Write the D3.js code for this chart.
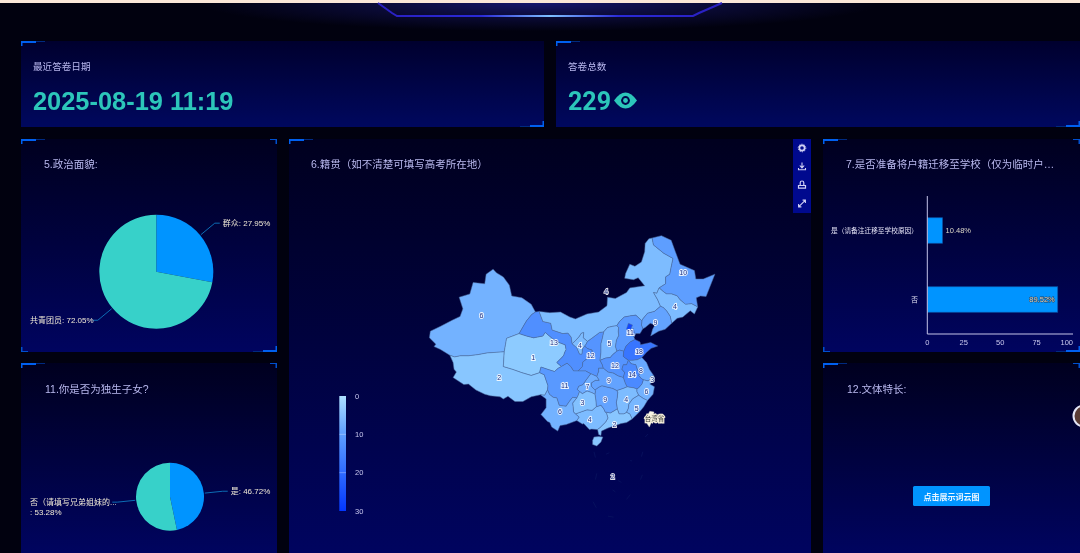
<!DOCTYPE html>
<html>
<head>
<meta charset="utf-8">
<title>问卷大屏</title>
<script src="https://cdn.jsdelivr.net/npm/d3@7/dist/d3.min.js"></script>
<style>
    html, body { margin: 0; padding: 0; background: #01010f; overflow: hidden; }
    svg { display: block; filter: blur(0.35px); }
    text { font-family: "Liberation Sans", "Noto Sans CJK SC", sans-serif; }
</style>
</head>
<body>
<div id="chart"></div>
<script>
// ---- Values ----
const latestDate = "2025-08-19 11:19";
const totalCount = "229";

const politicsNames = ["群众", "共青团员"];
const politicsValues = [27.95, 72.05];

const onlyChildNames = ["是", "否（请填写兄弟姐妹的..."];
const onlyChildValues = [46.72, 53.28];

const moveNames = ["是（请备注迁移至学校原因）", "否"];
const moveValues = [10.48, 89.52];
const moveTicks = [0, 25, 50, 75, 100];

const legendTicks = [0, 10, 20, 30];

const provinceNames = ["新疆", "西藏", "青海", "甘肃", "内蒙古", "宁夏", "陕西", "山西", "河北", "黑龙江", "吉林", "辽宁",
    "山东", "河南", "江苏", "上海", "安徽", "浙江", "湖北", "湖南", "江西", "福建", "广东", "广西", "贵州", "云南", "四川", "重庆", "海南", "北京", "天津"];
const provinceValues = [6, 2, 1, 13, 4, 4, 12, 5, 11, 10, 4, 9,
    18, 12, 8, 3, 14, 6, 9, 9, 4, 5, 2, 4, 3, 6, 11, 7, 2, 27, 16];

// ---- Province borders, lon/lat, shared so neighbours line up ----
const arcs = {
    xj_xz: [[78, 35.5], [79, 35.2], [80.3, 35.4], [82, 35.4], [84, 35.6], [86, 35.9], [88, 36], [89.7, 36.1]],
    xj_qh: [[89.7, 36.1], [90.2, 38.4], [92.9, 39.2]],
    xj_gs: [[92.9, 39.2], [93.8, 40.4], [94.5, 41.3], [95.6, 42.3], [96.4, 42.7]],
    xj_out: [[96.4, 42.7], [95.5, 43.9], [93.5, 44.9], [91.3, 45.2], [90.8, 46.8], [89.5, 48], [88, 48.6], [87.3, 49.1], [85.8, 48.4], [85.5, 47], [83, 47.2], [82.3, 45.5], [80, 45], [80.8, 43.2], [80.2, 42], [78.5, 41.4], [76, 40.4], [73.8, 39.6], [73.6, 38.5], [75, 37.4], [74.6, 37], [76, 36.5], [78, 35.5]],
    xz_out: [[78, 35.5], [78.7, 34.2], [78.9, 33], [79.4, 32.5], [78.7, 31.5], [81, 30.2], [82, 30.3], [83.6, 29.2], [85.5, 28.4], [86.7, 28.1], [88.8, 27.9], [89.5, 27.5], [90.5, 28], [92, 27], [93.7, 27], [95.5, 27.9], [97.5, 28.3]],
    xz_yn: [[97.5, 28.3], [98.4, 28.2], [99, 29.2]],
    xz_sc: [[99, 29.2], [99.1, 30], [98.7, 31], [98.3, 32], [97.3, 32.4]],
    xz_qh: [[97.3, 32.4], [95.5, 31.9], [93.5, 32.4], [91.5, 33], [89.5, 33.5], [89.6, 34.8], [89.7, 36.1]],
    qh_sc: [[97.3, 32.4], [97.6, 33.4], [99, 33], [100.5, 32.6], [101.3, 33.2], [102, 33.5]],
    qh_gs: [[92.9, 39.2], [94.5, 38.8], [96, 38.5], [98, 38.8], [98.5, 39.4], [100, 38.4], [101.5, 37.7], [102.8, 37.3], [103, 36.5], [102.7, 36], [102.5, 35.5], [102.2, 35.2], [101, 34.2], [102, 33.5]],
    gs_sc: [[102, 33.5], [103.2, 34.1], [104, 33.5], [104.6, 32.7], [105.6, 32.7]],
    gs_sn: [[105.6, 32.7], [106.5, 33.5], [106.6, 34.3], [107.5, 34.9], [108.6, 35.2], [108.6, 36.4], [107.5, 36.7], [107, 37.1]],
    gs_nx: [[107, 37.1], [106.5, 36.6], [106.4, 35.7], [105.9, 35.7], [105.3, 36.8], [104.3, 37.5]],
    gs_nm: [[104.3, 37.5], [104.1, 38.6], [103.4, 39.3], [102.3, 39.2], [100, 39.8], [99.7, 40.9], [98, 41.2], [97.2, 42.8]],
    gs_out: [[97.2, 42.8], [96.4, 42.7]],
    nm_nx: [[104.3, 37.5], [105, 38], [105.8, 38.7], [106.3, 39.3], [106.8, 39.4], [106.7, 38.5], [107.6, 37.9]],
    nx_sn: [[107.6, 37.9], [107.3, 37.4], [107, 37.1]],
    nm_sn: [[107.6, 37.9], [108.5, 38.4], [110.2, 39.4], [111.1, 39.5]],
    sn_sx: [[111.1, 39.5], [110.8, 38.4], [110.5, 37.5], [110.5, 36], [110.3, 34.6]],
    sn_ha: [[110.3, 34.6], [110.8, 33.8], [111, 33.2]],
    sn_hb: [[111, 33.2], [110, 33.2], [110, 32.6], [109.6, 31.7]],
    sn_cq: [[109.6, 31.7], [108.6, 32.1], [108.3, 32.2]],
    sn_sc: [[108.3, 32.2], [107.2, 32.7], [105.6, 32.7]],
    nm_out: [[97.2, 42.8], [99.5, 42.6], [101.8, 42.7], [103.8, 41.9], [105, 41.6], [107.5, 42.4], [110, 42.7], [111.8, 43.7], [111.9, 45], [113.6, 44.8], [116, 45.7], [116.7, 46.4], [119.9, 46.7], [118.5, 47.9], [117.5, 47.6], [115.6, 47.8], [115.8, 48.5], [116.7, 49.8], [117.8, 49.5], [119.2, 50.1], [119.9, 51.5], [120, 52.6], [120.8, 53.2], [121.5, 53.3]],
    nm_hl: [[121.5, 53.3], [121.8, 52.4], [124, 51.3], [126, 50.6], [125.6, 49.4], [125.3, 48.4], [124.4, 48], [124.4, 47], [123, 46.4]],
    nm_jl: [[123, 46.4], [122.5, 45.6], [121.8, 45.7], [122.7, 44.6], [123.3, 43.6]],
    nm_ln: [[123.3, 43.6], [122, 42.8], [120.5, 42.5], [119.5, 41.6], [119.3, 41.3]],
    nm_he: [[119.3, 41.3], [118, 42.2], [116.9, 42.1], [115.5, 41.9], [114.5, 41.2], [113.9, 40.5]],
    nm_sx: [[113.9, 40.5], [113, 40.4], [111.9, 40.2], [111.1, 39.5]],
    hl_out: [[121.5, 53.3], [123.5, 53.6], [125.6, 53], [126.5, 51.5], [127.5, 49.8], [130.6, 48.9], [130.9, 47.7], [132.5, 47.7], [135, 48.4], [133.1, 45.1], [131.9, 45.2], [131, 44.9], [131.3, 43.5]],
    hl_jl: [[131.3, 43.5], [130, 44], [128.7, 43.9], [127.5, 44.6], [126.9, 45.2], [125.7, 45.5], [124.6, 45.5], [124, 45.8], [123, 46.4]],
    jl_out: [[131.3, 43.5], [130.6, 42.4], [129.7, 42.9], [128.1, 41.9], [126.9, 41.7], [125.7, 40.9]],
    jl_ln: [[125.7, 40.9], [125.4, 42], [124.6, 42.9], [123.9, 43.4], [123.3, 43.6]],
    ln_out: [[125.7, 40.9], [124.3, 39.9], [122.9, 39.6], [121.2, 38.8], [121.6, 39.9], [122.1, 40.6], [121.1, 40.9], [120, 40.2], [119.5, 40]],
    ln_he: [[119.5, 40], [119.2, 40.6], [119.3, 41.3]],
    he_out: [[119.5, 40], [118.9, 39.2], [118, 39.2], [117.6, 38.6], [117.8, 38.2]],
    he_sd: [[117.8, 38.2], [116.8, 37.8], [115.9, 37.1], [115.4, 36.2]],
    he_ha: [[115.4, 36.2], [114.5, 36.4], [113.9, 36.2]],
    he_sx: [[113.9, 36.2], [113.6, 37], [113.8, 38.1], [114.3, 38.9], [114.2, 39.6], [114.3, 40.2], [113.9, 40.5]],
    sx_ha: [[110.3, 34.6], [111.5, 35], [112.5, 35.1], [113, 35.6], [113.9, 36.2]],
    ha_sd: [[116.4, 34.6], [115.3, 35.3], [115.4, 36.2]],
    ha_ah: [[115.3, 31.5], [115.6, 32.4], [115, 33], [115.3, 33.8], [116, 33.8], [116.4, 34.6]],
    hb_ha: [[115.3, 31.5], [114.2, 31.8], [113.2, 32.3], [112, 32.5], [111, 33.2]],
    sd_js: [[116.4, 34.6], [117.3, 34.6], [118.3, 34.7], [119.3, 35.1]],
    sd_out: [[119.3, 35.1], [120.3, 36], [121.3, 36.7], [122.7, 37.1], [121.2, 37.7], [120, 37.5], [119, 37.3], [118.9, 37.8], [117.8, 38.2]],
    js_out: [[119.3, 35.1], [120.3, 34.2], [120.9, 33], [121.9, 31.8]],
    js_sh: [[121, 31], [121.2, 31.7], [121.9, 31.8]],
    js_zj: [[119.6, 31.1], [120.5, 30.9], [121, 31]],
    js_ah: [[116.4, 34.6], [117, 34], [118, 33.8], [118.2, 33.2], [118.5, 32.7], [119, 32.4], [118.6, 31.9], [119.2, 31.3], [119.6, 31.1]],
    sh_out: [[121.9, 31.8], [122, 31.4], [121.9, 30.9]],
    sh_zj: [[121, 31], [121.2, 30.7], [121.9, 30.9]],
    zj_out: [[121.9, 30.9], [121, 30.3], [122, 29.8], [121.7, 28.4], [120.5, 27.2]],
    zj_fj: [[120.5, 27.2], [119.6, 27.6], [118.6, 28.2]],
    zj_jx: [[118.6, 28.2], [118.2, 28.9], [118.2, 29.4]],
    ah_zj: [[119.6, 31.1], [119.3, 30.3], [118.6, 29.6], [118.2, 29.4]],
    ah_jx: [[118.2, 29.4], [117.5, 29.6], [116.7, 29.7], [116.1, 29.8]],
    hb_ah: [[116.1, 29.8], [115.7, 30.5], [115.3, 31.5]],
    hb_jx: [[113.9, 29.1], [115.3, 29.5], [116.1, 29.8]],
    fj_jx: [[118.6, 28.2], [117.3, 27.5], [116.5, 26.5], [116.4, 25.7], [116, 24.9]],
    fj_gd: [[116, 24.9], [116.7, 24.6], [117.2, 23.6]],
    fj_out: [[117.2, 23.6], [118.1, 24.4], [119, 25.2], [119.7, 26], [120.5, 27.2]],
    jx_gd: [[116, 24.9], [115.4, 24.6], [114.4, 24.6], [114, 25.6]],
    hn_jx: [[114, 25.6], [113.8, 26.8], [114, 27.8], [114.1, 28.7], [113.9, 29.1]],
    hn_gd: [[111.4, 25], [112.5, 24.8], [113.5, 25.3], [114, 25.6]],
    gd_out: [[117.2, 23.6], [116, 22.9], [114.8, 22.7], [113.6, 22.3], [112, 21.8], [110.6, 21.2], [110.5, 20.3], [110, 20.5], [109.8, 21.4], [109.7, 21.5]],
    gx_gd: [[111.4, 25], [111.7, 24.7], [112, 23.8], [111.5, 23], [110.3, 21.9], [109.7, 21.5]],
    gx_hn: [[109.5, 26], [110.5, 26.3], [111.1, 25.6], [111.4, 25]],
    gx_out: [[109.7, 21.5], [108.5, 21.6], [108, 21.5], [106.8, 22.7], [106.5, 22.6], [105.3, 23.3]],
    yn_gx: [[105.3, 23.3], [105.8, 24], [105, 24.6]],
    gx_gz: [[105, 24.6], [106.2, 25], [107.5, 25.4], [108.6, 25.3], [109.5, 26]],
    gz_hn: [[109.5, 26], [109.4, 27.2], [109.2, 28.4]],
    cq_hn: [[109.2, 28.4], [109.3, 29], [109.2, 29.2]],
    hb_hn: [[113.9, 29.1], [113, 29.5], [112, 29.7], [110.7, 30], [110, 29.7], [109.2, 29.2]],
    cq_hb: [[109.2, 29.2], [108.5, 29.8], [108.4, 30.5], [109.3, 31], [110.1, 31], [109.6, 31.7]],
    sc_cq: [[108.3, 32.2], [107.5, 31.3], [106.6, 30.2], [105.7, 29.9], [105.4, 29.3], [105.9, 28.9]],
    cq_gz: [[105.9, 28.9], [106.5, 28.5], [107.5, 29], [108.5, 28.7], [109.2, 28.4]],
    sc_gz: [[105.9, 28.9], [105.6, 28.2], [105.3, 27.7]],
    sc_yn: [[105.3, 27.7], [104.4, 27.8], [103.7, 27], [103, 26.1], [102, 26.2], [101.5, 26.3], [101, 27.7], [100.2, 27.8], [99.4, 28.4], [99, 29.2]],
    yn_gz: [[105, 24.6], [104.6, 25], [104.5, 26], [104.4, 26.7], [105.3, 27.7]],
    yn_out: [[97.5, 28.3], [98.7, 27.5], [98.7, 25.8], [97.6, 24.5], [99, 23.1], [99.5, 22.9], [99.9, 22], [101.2, 21.2], [101.7, 22.3], [103, 22.5], [105.3, 23.3]]
};

// Each province is a closed walk over the arcs, "-" means walk it backwards
const provinceRings = {
    "新疆": ["xj_xz", "xj_qh", "xj_gs", "xj_out"],
    "西藏": ["xz_out", "xz_yn", "xz_sc", "xz_qh", "-xj_xz"],
    "青海": ["xj_qh", "qh_gs", "-qh_sc", "xz_qh"],
    "甘肃": ["qh_gs", "gs_sc", "gs_sn", "gs_nx", "gs_nm", "gs_out", "-xj_gs"],
    "宁夏": ["nm_nx", "nx_sn", "gs_nx"],
    "陕西": ["nm_sn", "sn_sx", "sn_ha", "sn_hb", "sn_cq", "sn_sc", "gs_sn", "-nx_sn"],
    "内蒙古": ["nm_out", "nm_hl", "nm_jl", "nm_ln", "nm_he", "nm_sx", "-nm_sn", "-nm_nx", "gs_nm"],
    "黑龙江": ["hl_out", "hl_jl", "-nm_hl"],
    "吉林": ["jl_out", "jl_ln", "-nm_jl", "-hl_jl"],
    "辽宁": ["ln_out", "ln_he", "-nm_ln", "-jl_ln"],
    "河北": ["he_out", "he_sd", "he_ha", "he_sx", "-nm_he", "-ln_he"],
    "山西": ["he_sx", "nm_sx", "sn_sx", "sx_ha"],
    "河南": ["sx_ha", "-he_ha", "-ha_sd", "-ha_ah", "hb_ha", "-sn_ha"],
    "山东": ["sd_out", "he_sd", "-ha_sd", "sd_js"],
    "江苏": ["js_out", "-js_sh", "-js_zj", "-js_ah", "sd_js"],
    "上海": ["js_sh", "sh_out", "-sh_zj"],
    "浙江": ["zj_out", "zj_fj", "zj_jx", "-ah_zj", "js_zj", "sh_zj"],
    "安徽": ["js_ah", "ah_zj", "ah_jx", "hb_ah", "ha_ah"],
    "江西": ["-zj_jx", "fj_jx", "jx_gd", "hn_jx", "hb_jx", "-ah_jx"],
    "福建": ["fj_out", "zj_fj", "fj_jx", "fj_gd"],
    "广东": ["gd_out", "-gx_gd", "hn_gd", "-jx_gd", "fj_gd"],
    "广西": ["gx_out", "yn_gx", "gx_gz", "gx_hn", "gx_gd"],
    "湖南": ["-gx_hn", "gz_hn", "cq_hn", "-hb_hn", "-hn_jx", "-hn_gd"],
    "湖北": ["hb_jx", "hb_ah", "hb_ha", "sn_hb", "-cq_hb", "-hb_hn"],
    "重庆": ["cq_hb", "sn_cq", "sc_cq", "cq_gz", "cq_hn"],
    "四川": ["gs_sc", "-sn_sc", "sc_cq", "sc_gz", "sc_yn", "xz_sc", "qh_sc"],
    "贵州": ["-cq_gz", "sc_gz", "-yn_gz", "gx_gz", "gz_hn"],
    "云南": ["yn_out", "yn_gx", "yn_gz", "sc_yn", "-xz_yn"]
};

// Places that sit on top of or apart from the shared borders
const extraRings = {
    "海南": [[108.7, 19.3], [109, 20], [110, 20.1], [110.9, 20], [110.5, 19], [109.6, 18.2], [108.7, 18.5], [108.7, 19.3]],
    "北京": [[116, 40], [116.4, 40.9], [117.3, 40.6], [116.9, 39.9], [116.3, 39.5], [116, 40]],
    "天津": [[117.8, 39.2], [117.4, 40.1], [117.1, 39.6], [117, 39.1], [117.6, 38.6], [117.8, 39.2]]
};
const taiwanRing = [[121, 25.1], [121.9, 25], [121.6, 23.5], [120.9, 22], [120.2, 23], [120.3, 24], [121, 25.1]];

// Nine-dash line and island specks of the South China Sea
const seaDashes = [
    [[109, 17], [109.3, 15.8]], [[109.6, 12.5], [109.3, 11.2]], [[108.8, 6.5], [109.5, 5.2]], [[112, 3.4], [113.2, 3.2]],
    [[116, 7], [116.8, 8]], [[119, 11.2], [119.4, 12.2]], [[119.2, 16], [119.5, 17]], [[120, 20], [120.6, 20.6]],
    [[111.6, 16.5], [112.3, 16.8]], [[113, 9], [113.6, 8.6]], [[114.2, 11], [114.9, 10.6]], [[116.8, 15.2], [117.2, 15.1]]
];

// Where ECharts put each number on the map, lon/lat
const labelAt = {
    "新疆": [84.8, 42.1], "西藏": [88.6, 31.6], "青海": [95.9, 35.1], "甘肃": [100.4, 37.7], "内蒙古": [111.6, 45.8],
    "黑龙江": [128.2, 48.7], "吉林": [126.4, 43.6], "辽宁": [122.2, 41.1], "河北": [116.8, 39.4], "山西": [112.3, 37.6],
    "陕西": [108.3, 35.4], "宁夏": [106, 37.2], "山东": [118.7, 36.2], "河南": [113.5, 33.7], "江苏": [119.1, 32.8],
    "安徽": [117.2, 32], "湖北": [112.2, 31], "上海": [121.5, 31.1], "重庆": [107.6, 29.9], "四川": [102.7, 30],
    "浙江": [120.3, 29], "贵州": [106.5, 26.9], "湖南": [111.4, 27.4], "江西": [115.9, 27.4], "福建": [118.2, 25.7],
    "云南": [101.7, 25], "广西": [108.1, 23.5], "广东": [113.4, 22.5], "海南": [113, 11.9]
};
const taiwanLabelAt = [122, 23.7];

// ---- Page ----
const width = 1080;
const height = 553;

const svg = d3.select("#chart")
    .append("svg")
    .attr("width", width)
    .attr("height", height);

const defs = svg.append("defs");

function verticalGradient(id, top, bottom) {
    const g = defs.append("linearGradient")
        .attr("id", id)
        .attr("x1", 0).attr("y1", 0)
        .attr("x2", 0).attr("y2", 1);
    g.append("stop").attr("offset", "0%").attr("stop-color", top);
    g.append("stop").attr("offset", "100%").attr("stop-color", bottom);
}
verticalGradient("cardFill", "#00002e", "#00085e");
verticalGradient("panelFill", "#00001f", "#00045f");

const headerLine = defs.append("linearGradient")
    .attr("id", "headerLine")
    .attr("gradientUnits", "userSpaceOnUse")
    .attr("x1", 378).attr("y1", 0)
    .attr("x2", 722).attr("y2", 0);
headerLine.append("stop").attr("offset", "0%").attr("stop-color", "#2a1fc0");
headerLine.append("stop").attr("offset", "30%").attr("stop-color", "#2a2ad8");
headerLine.append("stop").attr("offset", "50%").attr("stop-color", "#7fc0ff");
headerLine.append("stop").attr("offset", "70%").attr("stop-color", "#2a2ad8");
headerLine.append("stop").attr("offset", "100%").attr("stop-color", "#2a1fc0");

const glow = defs.append("radialGradient")
    .attr("id", "headerGlow")
    .attr("cx", "50%").attr("cy", "0%").attr("r", "50%");
glow.append("stop").attr("offset", "0%").attr("stop-color", "#1a1a80").attr("stop-opacity", 0.85);
glow.append("stop").attr("offset", "60%").attr("stop-color", "#14145e").attr("stop-opacity", 0.4);
glow.append("stop").attr("offset", "100%").attr("stop-color", "#14145e").attr("stop-opacity", 0);

// Background, header strip and glow
svg.append("rect").attr("width", width).attr("height", height).attr("fill", "#01010f");
svg.append("rect").attr("x", 200).attr("y", 3).attr("width", 680).attr("height", 56).attr("fill", "url(#headerGlow)");
svg.append("rect").attr("width", width).attr("height", 3).attr("fill", "#fbe7d8");
svg.append("path")
    .attr("d", d3.line()([[378, 3], [392, 13], [397, 16], [693, 16], [699, 13], [722, 3]]))
    .attr("fill", "none")
    .attr("stroke", "url(#headerLine)")
    .attr("stroke-width", 2);

// Panels with their little corner marks, the lower row runs off the bottom of the screenshot
const panels = [
    { x: 21, y: 41, w: 523, h: 86, fill: "cardFill", sideMarks: false, cut: false },
    { x: 556, y: 41, w: 524, h: 86, fill: "cardFill", sideMarks: false, cut: false },
    { x: 21, y: 139, w: 256, h: 213, fill: "panelFill", sideMarks: true, cut: false },
    { x: 21, y: 363, w: 256, h: 190, fill: "panelFill", sideMarks: true, cut: true },
    { x: 289, y: 139, w: 522, h: 414, fill: "panelFill", sideMarks: false, cut: true },
    { x: 823, y: 139, w: 257, h: 213, fill: "panelFill", sideMarks: true, cut: false },
    { x: 823, y: 363, w: 257, h: 190, fill: "panelFill", sideMarks: true, cut: true }
];

panels.forEach(p => {
    svg.append("rect")
        .attr("x", p.x).attr("y", p.y)
        .attr("width", p.w).attr("height", p.h)
        .attr("fill", `url(#${p.fill})`);

    const mark = (x, y, w, h, color) => svg.append("rect")
        .attr("x", x).attr("y", y).attr("width", w).attr("height", h).attr("fill", color);

    // top left
    mark(p.x, p.y, 15, 2, "#0060f0");
    mark(p.x + 15, p.y, 9, 1, "#002a80");
    mark(p.x, p.y, 1.5, 5, "#0060f0");

    if (p.sideMarks) {
        mark(p.x + p.w - 7, p.y, 7, 1, "#0050d0");
        mark(p.x + p.w - 1.5, p.y, 1.5, 5, "#0050d0");
    }

    if (!p.cut) {
        // bottom right
        mark(p.x + p.w - 14, p.y + p.h - 2, 14, 2, "#0060f0");
        mark(p.x + p.w - 24, p.y + p.h - 1, 10, 1, "#002a80");
        mark(p.x + p.w - 1.5, p.y + p.h - 6, 1.5, 6, "#0060f0");
        if (p.sideMarks) {
            mark(p.x, p.y + p.h - 1, 7, 1, "#0050d0");
            mark(p.x, p.y + p.h - 5, 1.5, 5, "#0050d0");
        }
    }
});

function title(x, y, txt, size) {
    svg.append("text")
        .attr("x", x).attr("y", y)
        .attr("fill", "#b8b8ee")
        .style("font-size", (size || 10.5) + "px")
        .text(txt);
}

// Top cards
title(33, 70, "最近答卷日期", 9.6);
svg.append("text")
    .attr("x", 33).attr("y", 110)
    .attr("fill", "#2cc6ba")
    .style("font-size", "25.4px")
    .style("font-weight", "bold")
    .text(latestDate);

title(568, 70, "答卷总数", 9.6);
svg.append("text")
    .attr("x", 568).attr("y", 110)
    .attr("fill", "#2cc6ba")
    .style("font-family", "Roboto, sans-serif")
    .style("font-size", "25px")
    .style("font-weight", "bold")
    .text(totalCount);

// Eye icon next to the count
const eye = svg.append("g").attr("transform", "translate(625.5,100.5)");
eye.append("path")
    .attr("d", "M-11.5,0 Q0,-16 11.5,0 Q0,16 -11.5,0 Z")
    .attr("fill", "#2cc6ba");
eye.append("circle").attr("r", 4.4).attr("fill", "#00044a");
eye.append("circle").attr("r", 2.4).attr("fill", "#2cc6ba");

// ---- Pies ----
const pieColors = ["#0094ff", "#37d1c9"];
const labelInk = "#efe9d6";

function drawPie(names, values, cx, cy, r, leftX) {
    const g = svg.append("g");
    const slices = d3.pie().sort(null)(values);
    const arc = d3.arc().innerRadius(0).outerRadius(r);

    g.selectAll("path.slice")
        .data(slices)
        .enter()
        .append("path")
        .attr("class", "slice")
        .attr("transform", `translate(${cx},${cy})`)
        .attr("d", arc)
        .attr("fill", (d, i) => pieColors[i]);

    slices.forEach((d, i) => {
        const mid = (d.startAngle + d.endAngle) / 2;
        const right = Math.sin(mid) > 0;
        const px = rad => cx + rad * Math.sin(mid);
        const py = rad => cy - rad * Math.cos(mid);
        const kneeX = px(r + 19);
        const kneeY = py(r + 19);
        const endX = kneeX + (right ? 5 : -5);

        g.append("path")
            .attr("d", d3.line()([[px(r + 1), py(r + 1)], [kneeX, kneeY], [endX, kneeY]]))
            .attr("fill", "none")
            .attr("stroke", "#0c6cb4")
            .attr("stroke-width", 1);

        const label = g.append("text")
            .attr("fill", labelInk)
            .style("font-size", "8px")
            .attr("x", right ? endX + 3 : leftX)
            .attr("y", kneeY + 3);

        if (names[i].length > 8) {
            label.text(names[i]);
            g.append("text")
                .attr("fill", labelInk)
                .style("font-size", "8px")
                .attr("x", leftX)
                .attr("y", kneeY + 13)
                .text(`: ${values[i].toFixed(2)}%`);
        } else {
            label.text(`${names[i]}: ${values[i].toFixed(2)}%`);
        }
    });
}

title(44, 167.5, "5.政治面貌:");
drawPie(politicsNames, politicsValues, 156.3, 271.7, 57, 30);

title(45, 392.5, "11.你是否为独生子女?");
drawPie(onlyChildNames, onlyChildValues, 170, 496.7, 34, 30);

// ---- Bars ----
title(846, 167.5, "7.是否准备将户籍迁移至学校（仅为临时户…");

const barX = d3.scaleLinear().domain([0, 100]).range([927.3, 1073]);
const barY = d3.scaleBand()
    .domain(moveNames)
    .range([196, 334])
    .paddingInner(0.63)
    .paddingOuter(0.315);

const barG = svg.append("g");
barG.selectAll("rect")
    .data(moveValues)
    .enter()
    .append("rect")
    .attr("x", barX(0))
    .attr("y", (d, i) => barY(moveNames[i]))
    .attr("width", d => barX(d) - barX(0))
    .attr("height", barY.bandwidth())
    .attr("fill", "#0094ff")
    .attr("stroke", "#0a4fa0")
    .attr("stroke-width", 0.7);

barG.append("path")
    .attr("d", d3.line()([[barX(0), 196], [barX(0), 334], [barX(100), 334]]))
    .attr("fill", "none")
    .attr("stroke", "#c4c4e8")
    .attr("stroke-width", 1);

barG.selectAll("text.tick")
    .data(moveTicks)
    .enter()
    .append("text")
    .attr("class", "tick")
    .attr("x", d => barX(d))
    .attr("y", 345)
    .attr("text-anchor", d => d === 100 ? "end" : "middle")
    .attr("fill", "#c8c8ee")
    .style("font-size", "7.5px")
    .text(d => d);

barG.selectAll("text.name")
    .data(moveNames)
    .enter()
    .append("text")
    .attr("class", "name")
    .attr("x", 918)
    .attr("y", d => barY(d) + barY.bandwidth() / 2 + 2.5)
    .attr("text-anchor", "end")
    .attr("fill", "#e4e4f6")
    .style("font-size", "6.7px")
    .text(d => d);

barG.selectAll("text.value")
    .data(moveValues)
    .enter()
    .append("text")
    .attr("class", "value")
    .attr("x", d => d > 50 ? barX(d) - 3 : barX(d) + 3)
    .attr("y", (d, i) => barY(moveNames[i]) + barY.bandwidth() / 2 + 2.5)
    .attr("text-anchor", d => d > 50 ? "end" : "start")
    .attr("fill", "#dcd8c8")
    .attr("stroke", d => d > 50 ? "#24405e" : "none")
    .attr("stroke-width", 1)
    .attr("paint-order", "stroke")
    .style("font-size", "7.5px")
    .text(d => d.toFixed(2) + "%");

// ---- Word cloud panel ----
title(847, 392.5, "12.文体特长:");

svg.append("rect")
    .attr("x", 913).attr("y", 486)
    .attr("width", 77).attr("height", 20)
    .attr("rx", 1.5)
    .attr("fill", "#0094ff");
svg.append("text")
    .attr("x", 951.5).attr("y", 499.5)
    .attr("text-anchor", "middle")
    .attr("fill", "#eaf6ff")
    .style("font-size", "8px")
    .style("font-weight", "bold")
    .text("点击展示词云图");

// The avatar that pokes in from the right edge of the screenshot
svg.append("circle")
    .attr("cx", 1084).attr("cy", 416)
    .attr("r", 10.5)
    .attr("fill", "#5a3c34")
    .attr("stroke", "#e4e6f6")
    .attr("stroke-width", 2);

// ---- Map ----
title(311, 167.5, "6.籍贯（如不清楚可填写高考所在地）");

const projection = d3.geoMercator().scale(266.4).translate([87.2, 532]);
const geoPath = d3.geoPath(projection);

function joinRing(names) {
    const pts = [];
    names.forEach(n => {
        const back = n[0] === "-";
        const line = arcs[back ? n.slice(1) : n];
        const part = back ? line.slice().reverse() : line;
        pts.push(...(pts.length ? part.slice(1) : part));
    });
    return pts;
}

// d3 treats the small side of a ring as its inside only when wound the right way
function polygon(ring, name) {
    let f = { type: "Feature", properties: { name }, geometry: { type: "Polygon", coordinates: [ring] } };
    if (d3.geoArea(f) > 2 * Math.PI) {
        f.geometry.coordinates = [ring.slice().reverse()];
    }
    return f;
}

const features = Object.keys(provinceRings).map(n => polygon(joinRing(provinceRings[n]), n))
    .concat(Object.keys(extraRings).map(n => polygon(extraRings[n], n)));

const mapColor = d3.scaleLinear()
    .domain([0, 10, 20, 30])
    .range(["#92d0ff", "#5e9eff", "#2f6bff", "#0336ff"]);

const mapG = svg.append("g");

mapG.selectAll("path.province")
    .data(features)
    .enter()
    .append("path")
    .attr("class", "province")
    .attr("d", geoPath)
    .attr("fill", d => mapColor(provinceValues[provinceNames.indexOf(d.properties.name)]))
    .attr("stroke", "#4f6f9e")
    .attr("stroke-width", 0.5);

mapG.append("path")
    .datum(polygon(taiwanRing, "台湾"))
    .attr("d", geoPath)
    .attr("fill", "#f8f6ea")
    .attr("stroke", "#d9d6c8")
    .attr("stroke-width", 0.4);

mapG.selectAll("path.dash")
    .data(seaDashes)
    .enter()
    .append("path")
    .attr("class", "dash")
    .attr("d", d => geoPath({ type: "LineString", coordinates: d }))
    .attr("fill", "none")
    .attr("stroke", "#0a1560")
    .attr("stroke-width", 0.7);

mapG.selectAll("text.value")
    .data(provinceNames.filter(n => labelAt[n]))
    .enter()
    .append("text")
    .attr("class", "value")
    .attr("x", d => projection(labelAt[d])[0])
    .attr("y", d => projection(labelAt[d])[1] + 2.5)
    .attr("text-anchor", "middle")
    .attr("fill", "#1b2f84")
    .attr("stroke", "#ffffff")
    .attr("stroke-opacity", 0.85)
    .attr("stroke-width", 1.8)
    .attr("paint-order", "stroke")
    .style("font-size", "7px")
    .text(d => provinceValues[provinceNames.indexOf(d)]);

const twAt = projection(taiwanLabelAt);
mapG.append("text")
    .attr("x", twAt[0])
    .attr("y", twAt[1] + 2.5)
    .attr("text-anchor", "middle")
    .attr("fill", "#3a3a3a")
    .attr("stroke", "#f6f0dc")
    .attr("stroke-width", 2.4)
    .attr("paint-order", "stroke")
    .style("font-size", "6.5px")
    .text("台湾省");

// Visual map legend
const legendY = d3.scaleLinear().domain([0, 30]).range([396, 511]);
const legendGrad = defs.append("linearGradient")
    .attr("id", "legendFill")
    .attr("x1", 0).attr("y1", 0)
    .attr("x2", 0).attr("y2", 1);
legendTicks.forEach(t => {
    legendGrad.append("stop")
        .attr("offset", (t / 30 * 100) + "%")
        .attr("stop-color", t === 0 ? "#aee0ff" : mapColor(t));
});

svg.append("rect")
    .attr("x", 339.3).attr("y", legendY(0))
    .attr("width", 6.7).attr("height", legendY(30) - legendY(0))
    .attr("fill", "url(#legendFill)");

svg.selectAll("rect.notch")
    .data(legendTicks.slice(1, 3))
    .enter()
    .append("rect")
    .attr("class", "notch")
    .attr("x", 339.3).attr("y", d => legendY(d) - 0.5)
    .attr("width", 6.7).attr("height", 1)
    .attr("fill", "#ffffff")
    .attr("opacity", 0.3);

svg.selectAll("text.legendTick")
    .data(legendTicks)
    .enter()
    .append("text")
    .attr("class", "legendTick")
    .attr("x", 355)
    .attr("y", d => legendY(d) + 2.5)
    .attr("fill", "#c8c8ee")
    .style("font-size", "7.5px")
    .text(d => d);

// Map toolbox
svg.append("rect")
    .attr("x", 793).attr("y", 139)
    .attr("width", 18).attr("height", 74)
    .attr("fill", "#00098e");

const toolInk = "#cfcff4";
const toolbox = svg.append("g");

// settings
const gear = toolbox.append("g").attr("transform", "translate(802,148)");
gear.append("circle").attr("r", 2.6).attr("fill", "none").attr("stroke", toolInk).attr("stroke-width", 1.6);
gear.append("circle").attr("r", 3.8).attr("fill", "none").attr("stroke", toolInk).attr("stroke-width", 1).attr("stroke-dasharray", "1.2 1.2");
// download
toolbox.append("path")
    .attr("transform", "translate(802,166.5)")
    .attr("d", "M0,-4 V1 M-2.2,-1 L0,1.4 L2.2,-1 M-3.5,1.5 V3.2 H3.5 V1.5")
    .attr("fill", "none").attr("stroke", toolInk).attr("stroke-width", 1.1);
// image export
toolbox.append("path")
    .attr("transform", "translate(802,185)")
    .attr("d", "M-3.5,3.2 H3.5 V0.5 H-3.5 Z M-1.8,0.5 V-2.2 A1.8,1.8 0 1 1 1.8,-2.2 V0.5")
    .attr("fill", "none").attr("stroke", toolInk).attr("stroke-width", 1.2);
// fullscreen
toolbox.append("path")
    .attr("transform", "translate(802,203.5)")
    .attr("d", "M-3.2,3.2 L3.2,-3.2 M0.6,-3.4 H3.4 V-0.6 M-3.4,0.6 V3.4 H-0.6")
    .attr("fill", "none").attr("stroke", toolInk).attr("stroke-width", 1.1);
</script>
</body>
</html>
